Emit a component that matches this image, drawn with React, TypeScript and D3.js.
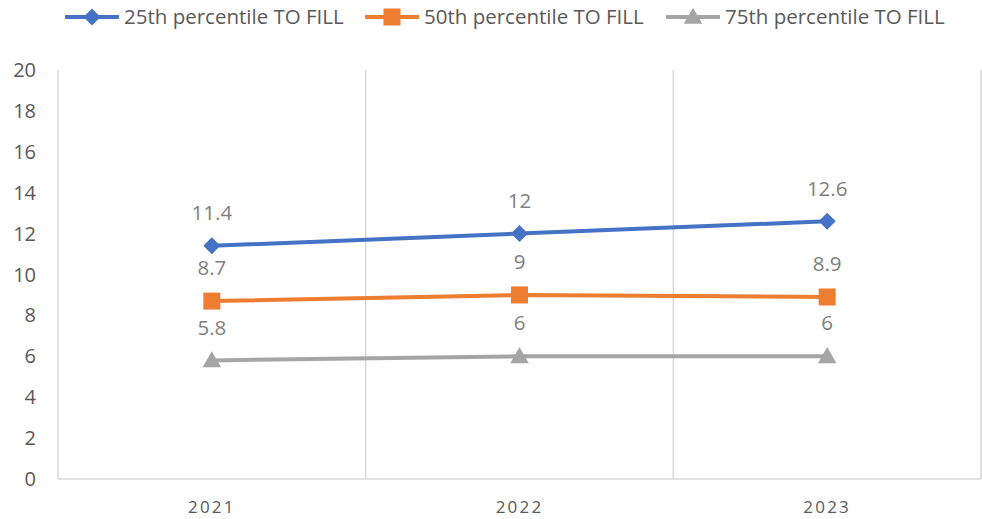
import * as d3 from "d3";

const years = ["2021", "2022", "2023"];
const p25 = [11.4, 12, 12.6];
const p50 = [8.7, 9, 8.9];
const p75 = [5.8, 6, 6];
const yTicks = [0, 2, 4, 6, 8, 10, 12, 14, 16, 18, 20];

const series = [
  { name: "25th percentile TO FILL", values: p25, color: "#4472C4", marker: "diamond" },
  { name: "50th percentile TO FILL", values: p50, color: "#ED7D31", marker: "square" },
  { name: "75th percentile TO FILL", values: p75, color: "#A5A5A5", marker: "triangle" },
];

const W = 982;
const H = 519;
const left = 58;
const right = 981;
const top = 70;
const bottom = 479;
const font = "'Open Sans', 'Noto Sans', sans-serif";

function Marker({ type, x, y, color }: { type: string; x: number; y: number; color: string }) {
  if (type === "diamond") {
    const s = 8.5;
    return <path d={`M${x},${y - s}L${x + s},${y}L${x},${y + s}L${x - s},${y}Z`} fill={color} />;
  }
  if (type === "square") {
    const s = 8.5;
    return <rect x={x - s} y={y - s} width={s * 2} height={s * 2} fill={color} />;
  }
  const sym = d3.symbol().type(d3.symbolTriangle).size(150)();
  return <path d={sym || ""} transform={`translate(${x},${y + 1.5})`} fill={color} />;
}

const App = () => {
  const x = d3.scaleBand().domain(years).range([left, right]);
  const y = d3.scaleLinear().domain([0, 20]).range([bottom, top]);
  const cx = (d: string) => (x(d) || 0) + x.bandwidth() / 2;

  const line = d3
    .line<number>()
    .x((_, i) => cx(years[i]))
    .y((d) => y(d));

  const legendX = [65, 365, 666];

  return (
    <svg
      width={W}
      height={H}
      style={{ position: "absolute", left: 0, top: 0, background: "#fff" }}
      fontFamily={font}
    >
      {/* legend */}
      {series.map((s, i) => (
        <g key={s.name} transform={`translate(${legendX[i]},17)`}>
          <line x1={0} x2={54} y1={0} y2={0} stroke={s.color} strokeWidth={4} />
          <Marker type={s.marker} x={27} y={0} color={s.color} />
          <text x={59} y={0} dy="0.35em" fontSize={20.5} fill="#595959">
            {s.name}
          </text>
        </g>
      ))}

      {/* vertical gridlines at category boundaries */}
      {years.map((d) => (
        <line
          key={d}
          x1={(x(d) || 0) + x.bandwidth()}
          x2={(x(d) || 0) + x.bandwidth()}
          y1={top}
          y2={bottom}
          stroke="#D9D9D9"
          strokeWidth={1.5}
        />
      ))}
      <line x1={left} x2={left} y1={top} y2={bottom} stroke="#D9D9D9" strokeWidth={1.5} />
      <line x1={left} x2={right} y1={bottom} y2={bottom} stroke="#D9D9D9" strokeWidth={1.5} />

      {/* y ticks */}
      {yTicks.map((t) => (
        <text key={t} x={36} y={y(t)} dy="0.35em" textAnchor="end" fontSize={20} fill="#595959">
          {t}
        </text>
      ))}

      {/* x labels */}
      {years.map((d) => (
        <text
          key={d}
          x={cx(d)}
          y={507}
          dy="0.35em"
          textAnchor="middle"
          fontSize={17}
          letterSpacing={2.2}
          fill="#595959"
        >
          {d}
        </text>
      ))}

      {/* series */}
      {series.map((s) => (
        <g key={s.name}>
          <path d={line(s.values) || ""} fill="none" stroke={s.color} strokeWidth={4} />
          {s.values.map((v, i) => (
            <Marker key={i} type={s.marker} x={cx(years[i])} y={y(v)} color={s.color} />
          ))}
          {s.values.map((v, i) => (
            <text
              key={"l" + i}
              x={cx(years[i])}
              y={y(v) - 33}
              dy="0.35em"
              textAnchor="middle"
              fontSize={20.5}
              fill="#7F7F7F"
            >
              {v}
            </text>
          ))}
        </g>
      ))}
    </svg>
  );
};

export default App;
